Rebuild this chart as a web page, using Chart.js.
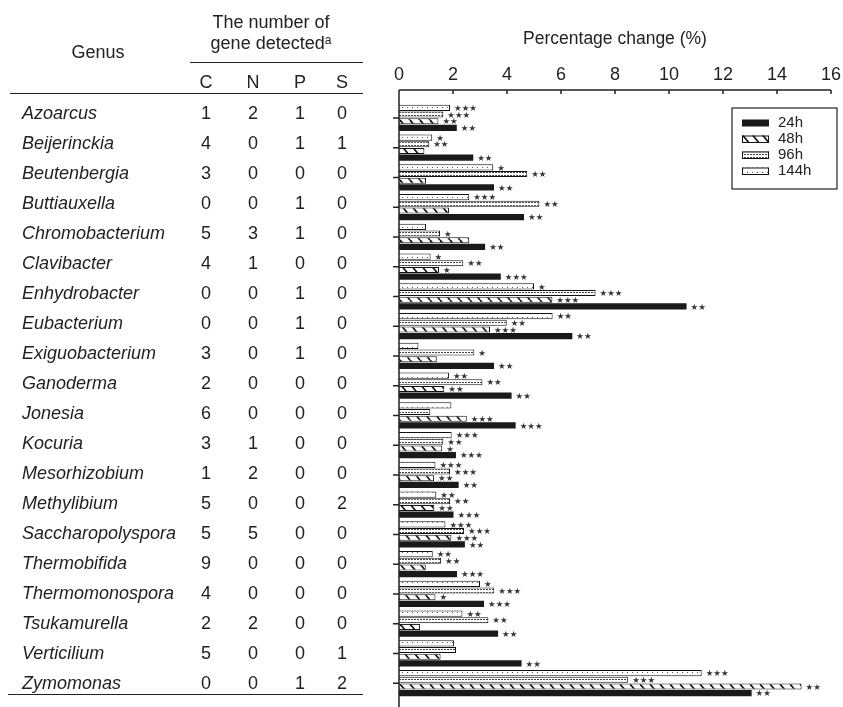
<!DOCTYPE html>
<html>
<head>
<meta charset="utf-8">
<script src="https://cdn.jsdelivr.net/npm/chart.js@4.4.1/dist/chart.umd.min.js"></script>
<style>
  html, body { margin: 0; padding: 0; background: #fff; }
  #wrap { position: relative; width: 843px; height: 707px; overflow: hidden; }
  #chart { position: absolute; left: 0; top: 0; }
  .t { position: absolute; font-family: "Liberation Sans", Arial, sans-serif; color: #222; font-size: 18px; line-height: 20px; white-space: nowrap; }
  .t.it { font-style: italic; }
  .rule { position: absolute; height: 0; border-top: 1.3px solid #222; }
</style>
</head>
<body>
<div id="wrap">
  <canvas id="chart" width="843" height="707"></canvas>
  <div id="table"></div>
</div>
<script>
// genera and gene counts (table on the left)
const genera = ["Azoarcus", "Beijerinckia", "Beutenbergia", "Buttiauxella", "Chromobacterium",
  "Clavibacter", "Enhydrobacter", "Eubacterium", "Exiguobacterium", "Ganoderma", "Jonesia",
  "Kocuria", "Mesorhizobium", "Methylibium", "Saccharopolyspora", "Thermobifida",
  "Thermomonospora", "Tsukamurella", "Verticilium", "Zymomonas"];
const geneC = [1, 4, 3, 0, 5, 4, 0, 0, 3, 2, 6, 3, 1, 5, 5, 9, 4, 2, 5, 0];
const geneN = [2, 0, 0, 0, 3, 1, 0, 0, 0, 0, 0, 1, 2, 0, 5, 0, 0, 2, 0, 0];
const geneP = [1, 1, 0, 1, 1, 0, 1, 1, 1, 0, 0, 0, 0, 0, 0, 0, 0, 0, 0, 1];
const geneS = [0, 1, 0, 0, 0, 0, 0, 0, 0, 0, 0, 0, 0, 2, 0, 0, 0, 0, 1, 2];

// percentage change per time point
const h24  = [2.14, 2.75, 3.52, 4.63, 3.19, 3.77, 10.65, 6.42, 3.52, 4.17, 4.32, 2.11, 2.21, 2.02, 2.44, 2.15, 3.15, 3.67, 4.54, 13.06];
const h48  = [1.46, 0.94, 1.00, 1.85, 2.60, 1.48, 5.68, 3.37, 1.40, 1.68, 2.51, 1.60, 1.30, 1.31, 1.94, 0.99, 1.35, 0.78, 1.54, 14.91];
const h96  = [1.64, 1.12, 4.75, 5.20, 1.52, 2.38, 7.28, 3.99, 2.79, 3.09, 1.16, 1.64, 1.89, 1.89, 2.41, 1.56, 3.53, 3.31, 2.11, 8.49];
const h144 = [1.89, 1.23, 3.49, 2.60, 1.00, 1.17, 5.00, 5.69, 0.72, 1.85, 1.94, 1.95, 1.35, 1.38, 1.72, 1.25, 3.00, 2.35, 2.04, 11.21];

// significance stars (count of asterisks)
const sig24  = [2, 2, 2, 2, 2, 3, 2, 2, 2, 2, 3, 3, 2, 3, 2, 3, 3, 2, 2, 2];
const sig48  = [2, 0, 0, 0, 0, 1, 3, 3, 0, 2, 3, 1, 2, 2, 3, 0, 1, 0, 0, 2];
const sig96  = [3, 2, 2, 2, 1, 2, 3, 2, 1, 2, 0, 2, 3, 2, 3, 2, 3, 2, 0, 3];
const sig144 = [3, 1, 1, 3, 0, 1, 1, 2, 0, 2, 0, 3, 3, 2, 3, 2, 1, 2, 0, 3];

const xTicks = [0, 2, 4, 6, 8, 10, 12, 14, 16];

// ---- fill patterns ----
function tile(w, h, draw) {
  const c = document.createElement("canvas");
  c.width = w; c.height = h;
  const g = c.getContext("2d");
  g.fillStyle = "#fff";
  g.fillRect(0, 0, w, h);
  draw(g);
  return c;
}
const ctx = document.getElementById("chart").getContext("2d");
const hatch = ctx.createPattern(tile(10, 12, g => {
  g.strokeStyle = "#111";
  g.lineWidth = 1.7;
  [-10, 0, 10].forEach(o => {
    g.beginPath(); g.moveTo(o, 0); g.lineTo(o + 10, 12); g.stroke();
  });
}), "repeat");
const dense = ctx.createPattern(tile(3, 3, g => {
  g.fillStyle = "#444";
  g.fillRect(0, 1, 2, 1);
}), "repeat");
const sparse = ctx.createPattern(tile(5, 5, g => {
  g.fillStyle = "#555";
  g.fillRect(2, 2, 1, 1);
}), "repeat");

// ---- decorations drawn on the chart ----
const decor = {
  id: "decor",
  afterDatasetsDraw(chart) {
    const { ctx, chartArea, scales } = chart;
    const xs = scales.x, ys = scales.y;
    ctx.save();

    // significance stars
    ctx.font = '8.5px "DejaVu Sans"';
    ctx.fillStyle = "#333";
    ctx.textAlign = "left";
    ctx.textBaseline = "middle";
    chart.data.datasets.forEach((ds, di) => {
      const meta = chart.getDatasetMeta(di);
      meta.data.forEach((bar, i) => {
        const n = ds.sig[i];
        if (n > 0) ctx.fillText("\u2605".repeat(n), bar.x + 4, bar.y + 1);
      });
    });

    // axes
    const axisY = 90;
    ctx.strokeStyle = "#222";
    ctx.lineWidth = 1.5;
    ctx.beginPath();
    ctx.moveTo(chartArea.left, axisY);
    ctx.lineTo(chartArea.right, axisY);
    ctx.moveTo(chartArea.left, axisY);
    ctx.lineTo(chartArea.left, chart.height);
    xs.ticks.forEach(t => {
      const px = xs.getPixelForValue(t.value);
      ctx.moveTo(px, axisY);
      ctx.lineTo(px, axisY + 4);
    });
    chart.data.labels.forEach((l, i) => {
      const py = ys.getPixelForValue(i);
      ctx.moveTo(chartArea.left - 6, py);
      ctx.lineTo(chartArea.left, py);
    });
    ctx.stroke();

    // legend box
    const bx = 732, by = 108, bw = 105, bh = 81;
    ctx.lineWidth = 1.2;
    ctx.strokeRect(bx, by, bw, bh);
    ctx.font = '15px "Liberation Sans", Arial, sans-serif';
    const order = chart.data.datasets.slice().reverse();
    order.forEach((ds, k) => {
      const cy = 123 + k * 16;
      ctx.fillStyle = ds.backgroundColor;
      ctx.fillRect(742, cy - 3.5, 27, 7);
      if (ds.borderWidth) {
        ctx.lineWidth = 1;
        ctx.strokeStyle = "#111";
        ctx.strokeRect(742.5, cy - 3, 26, 6.5);
      }
      ctx.fillStyle = "#222";
      ctx.fillText(ds.label, 778, cy);
    });
    ctx.restore();
  }
};

Chart.defaults.font.family = '"Liberation Sans", Arial, sans-serif';
Chart.defaults.color = "#222";

const chart = new Chart(ctx, {
  type: "bar",
  data: {
    labels: genera,
    datasets: [
      { label: "144h", data: h144, sig: sig144, backgroundColor: sparse, borderColor: "#111", borderWidth: 1 },
      { label: "96h",  data: h96,  sig: sig96,  backgroundColor: dense,  borderColor: "#111", borderWidth: 1 },
      { label: "48h",  data: h48,  sig: sig48,  backgroundColor: hatch,  borderColor: "#111", borderWidth: 1 },
      { label: "24h",  data: h24,  sig: sig24,  backgroundColor: "#1a1a1a", borderWidth: 0 }
    ]
  },
  options: {
    indexAxis: "y",
    responsive: false,
    animation: false,
    events: [],
    categoryPercentage: 0.9,
    barPercentage: 0.92,
    layout: { padding: { left: 399, right: 12, top: 0, bottom: 9 } },
    plugins: { legend: { display: false }, tooltip: { enabled: false } },
    scales: {
      x: {
        position: "top",
        min: 0,
        max: 16,
        afterBuildTicks: s => { s.ticks = xTicks.map(v => ({ value: v })); },
        ticks: { padding: 17, maxRotation: 0, autoSkip: false, font: { size: 18 } },
        grid: { display: false, drawTicks: false },
        border: { display: false },
        title: {
          display: true,
          text: "Percentage change (%)",
          font: { size: 17.5 },
          padding: { top: 28.5, bottom: 0 }
        },
        afterFit: s => {
          s.height = 103;
          s.paddingLeft = 0;
          s.paddingRight = 0;
        }
      },
      y: { type: "category", display: false, offset: true }
    }
  },
  plugins: [decor]
});

// ---- table on the left ----
const table = document.getElementById("table");
function put(html, x, yc, align, italic, w) {
  const d = document.createElement("div");
  d.className = "t" + (italic ? " it" : "");
  d.innerHTML = html;
  d.style.top = (yc - 9.8) + "px";
  if (align === "center") {
    d.style.width = w + "px";
    d.style.left = (x - w / 2) + "px";
    d.style.textAlign = "center";
  } else {
    d.style.left = x + "px";
  }
  table.appendChild(d);
}
function rule(x1, x2, y) {
  const d = document.createElement("div");
  d.className = "rule";
  d.style.left = x1 + "px";
  d.style.width = (x2 - x1) + "px";
  d.style.top = y + "px";
  table.appendChild(d);
}
const colX = [206, 253, 300, 342];
put("Genus", 98, 51.5, "center", false, 100);
put("The number of", 271, 21.5, "center", false, 180);
put('gene detected<span style="font-size:12px;vertical-align:5px">a</span>', 271, 40, "center", false, 180);
rule(190, 363, 62);
["C", "N", "P", "S"].forEach((h, k) => put(h, colX[k], 82, "center", false, 30));
rule(10, 363, 92.5);
genera.forEach((g, i) => {
  const yc = 112.5 + 30 * i;
  put(g, 22, yc, "left", true);
  [geneC, geneN, geneP, geneS].forEach((arr, k) => put(String(arr[i]), colX[k], yc, "center", false, 30));
});
rule(8, 363, 693.5);
</script>
</body>
</html>
